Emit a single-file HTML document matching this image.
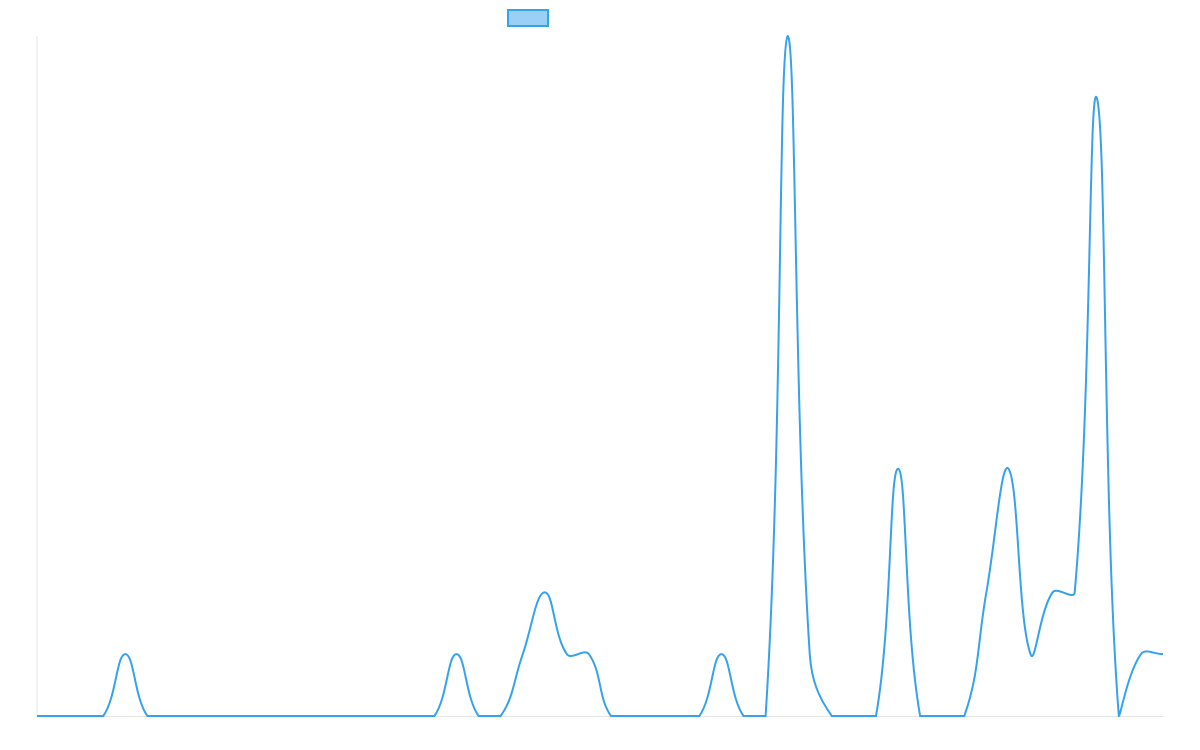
<!DOCTYPE html>
<html><head><meta charset="utf-8"><style>
html,body{margin:0;padding:0;background:#fff;width:1200px;height:750px;overflow:hidden}
</style></head><body>
<svg id="s" width="1200" height="750" xmlns="http://www.w3.org/2000/svg">
<rect x="508" y="10" width="40" height="16" fill="#9ad0f5" stroke="#36a2eb" stroke-width="2"/>
<line x1="37" y1="36" x2="37" y2="716" stroke="#e6e6e6" stroke-width="1"/>
<line x1="37" y1="716.5" x2="1163" y2="716.5" stroke="#e6e6e6" stroke-width="1"/>
<path id="p" fill="none" stroke="#36a2eb" stroke-width="2"/>
</svg>
<script>
var v=new Array(52).fill(0);
v[4]=1;v[19]=1;v[22]=1;v[23]=2;v[24]=1;v[25]=1;v[31]=1;v[34]=11;v[35]=1;v[39]=4;v[43]=2;v[44]=4;v[45]=1;v[46]=2;v[47]=2;v[48]=10;v[50]=1;v[51]=1;
var x0=37,x1=1163,yb=716,yt=36,n=v.length,T=0.4;
var P=v.map(function(d,i){return {x:x0+(x1-x0)*i/(n-1),y:yb-(yb-yt)*d/11};});
function cap(y){return Math.max(yt,Math.min(yb,y));}
var C=[];
for(var i=0;i<n;i++){
 var p=P[i>0?i-1:i],c=P[i],q=P[i<n-1?i+1:i];
 var d01=Math.hypot(c.x-p.x,c.y-p.y),d12=Math.hypot(q.x-c.x,q.y-c.y);
 var s01=d01/(d01+d12),s12=d12/(d01+d12);
 if(isNaN(s01))s01=0;if(isNaN(s12))s12=0;
 var fa=T*s01,fb=T*s12;
 C[i]={px:c.x-fa*(q.x-p.x),py:cap(c.y-fa*(q.y-p.y)),nx:c.x+fb*(q.x-p.x),ny:cap(c.y+fb*(q.y-p.y))};
}
var d="M"+P[0].x+","+P[0].y;
for(i=0;i<n-1;i++){
 d+=" C"+C[i].nx+","+C[i].ny+" "+C[i+1].px+","+C[i+1].py+" "+P[i+1].x+","+P[i+1].y;
}
document.getElementById("p").setAttribute("d",d);
</script>
</body></html>
